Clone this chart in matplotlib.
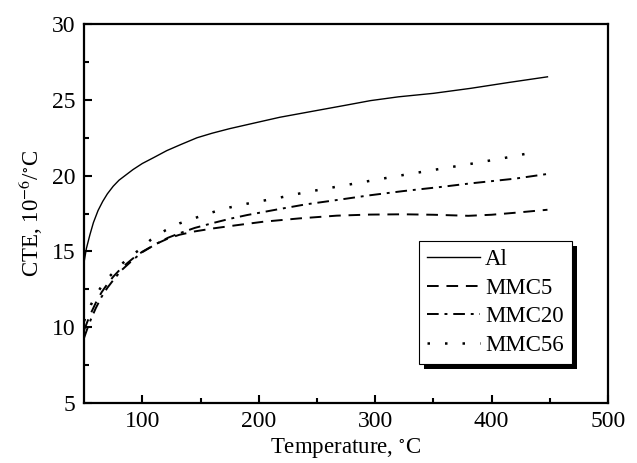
import numpy as np
import matplotlib
matplotlib.use('Agg')
import matplotlib.pyplot as plt
from matplotlib.patches import Rectangle
from matplotlib.transforms import IdentityTransform

plt.rcParams['font.family'] = ['Liberation Serif', 'DejaVu Serif']
plt.rcParams['mathtext.fontset'] = 'stix'

# values
t_al = [50, 52, 55, 58, 62, 66, 70, 75, 80, 86, 92, 100, 110, 121, 133, 147, 160, 175,
        195, 218, 250, 275, 296, 320, 350, 382, 415, 448]
cte_al = [14.3, 15.2, 16.1, 16.9, 17.7, 18.3, 18.8, 19.3, 19.7, 20.05, 20.4, 20.8, 21.2,
          21.65, 22.05, 22.5, 22.8, 23.1, 23.45, 23.85, 24.3, 24.65, 24.95, 25.2, 25.43,
          25.76, 26.15, 26.52]

t_mmc5 = [50, 53, 56, 60, 65, 70, 75, 82, 92, 100, 112, 122, 132, 145, 161, 180, 204,
          235, 267, 295, 324, 350, 380, 400, 420, 448]
cte_mmc5 = [9.8, 10.4, 10.95, 11.6, 12.3, 12.85, 13.33, 13.9, 14.54, 14.98, 15.5, 15.85,
            16.1, 16.32, 16.52, 16.72, 16.96, 17.18, 17.36, 17.43, 17.45, 17.42, 17.35,
            17.42, 17.55, 17.75]

t_mmc20 = [50, 53, 56, 60, 65, 70, 75, 82, 92, 100, 112, 122, 132, 145, 161, 175, 190,
           218, 240, 267, 295, 324, 356, 382, 420, 447]
cte_mmc20 = [9.3, 9.95, 10.55, 11.25, 12.0, 12.6, 13.1, 13.75, 14.45, 14.95, 15.5, 15.9,
             16.2, 16.55, 16.88, 17.15, 17.4, 17.8, 18.1, 18.39, 18.7, 18.98, 19.25,
             19.49, 19.8, 20.1]

t_mmc56 = [50, 53, 56, 60, 65, 70, 75, 82, 92, 100, 107, 120, 132, 145, 161, 175, 190,
           218, 240, 267, 295, 324, 356, 380, 410, 440]
cte_mmc56 = [10.4, 10.95, 11.5, 12.1, 12.7, 13.2, 13.6, 14.15, 14.8, 15.25, 15.75, 16.4,
             16.85, 17.2, 17.6, 17.9, 18.15, 18.55, 18.9, 19.27, 19.65, 20.04, 20.45,
             20.75, 21.15, 21.6]

fig = plt.figure(figsize=(6.37, 4.63), dpi=100)
ax = fig.add_axes([0.132, 0.1296, 0.8225, 0.8184])

ax.plot(t_al, cte_al, color='k', lw=1.0, ls='-', label='Al')
ax.plot(t_mmc5, cte_mmc5, color='k', lw=1.4, ls=(0, (6, 4)), label='MMC5')
ax.plot(t_mmc20, cte_mmc20, color='k', lw=1.4, ls=(0, (6, 3, 1.5, 3)), label='MMC20')
ax.plot(t_mmc56, cte_mmc56, color='k', lw=1.8, ls=(0, (1, 6)), label='MMC56')

ax.set_xlim(50, 500)
ax.set_ylim(5, 30)
ax.set_xticks([100, 200, 300, 400, 500])
ax.set_xticks([150, 250, 350, 450], minor=True)
ax.set_yticks([5, 10, 15, 20, 25, 30])
ax.set_yticks([7.5, 12.5, 17.5, 22.5, 27.5], minor=True)
ax.tick_params(which='both', direction='in', top=False, right=False, width=1.5,
               labelsize=17, pad=6)
ax.tick_params(which='major', length=6)
ax.tick_params(which='minor', length=3.5)
for s in ax.spines.values():
    s.set_linewidth(1.6)

ax.set_xlabel('Temperature, $^{\\circ}$C', fontsize=16.5, labelpad=3)
ax.set_ylabel('CTE, 10$^{-6}$/$^{\\circ}$C', fontsize=16.5, labelpad=5)

leg = ax.legend(loc='lower right', bbox_to_anchor=(0.931, 0.103), fontsize=16.5,
                frameon=True, fancybox=False, framealpha=1, edgecolor='k',
                handlelength=2.3, handletextpad=0.22, labelspacing=0.33,
                borderpad=0.35, borderaxespad=0)
leg.get_frame().set_linewidth(0.8)
leg.set_zorder(5)

fig.canvas.draw()
bb = leg.get_window_extent()
ax.add_patch(Rectangle((bb.x0 + 5, bb.y0 - 5), bb.width, bb.height,
                       transform=IdentityTransform(), facecolor='k',
                       edgecolor='none', zorder=4.9, clip_on=False))

fig.savefig('out.png', dpi=100)
